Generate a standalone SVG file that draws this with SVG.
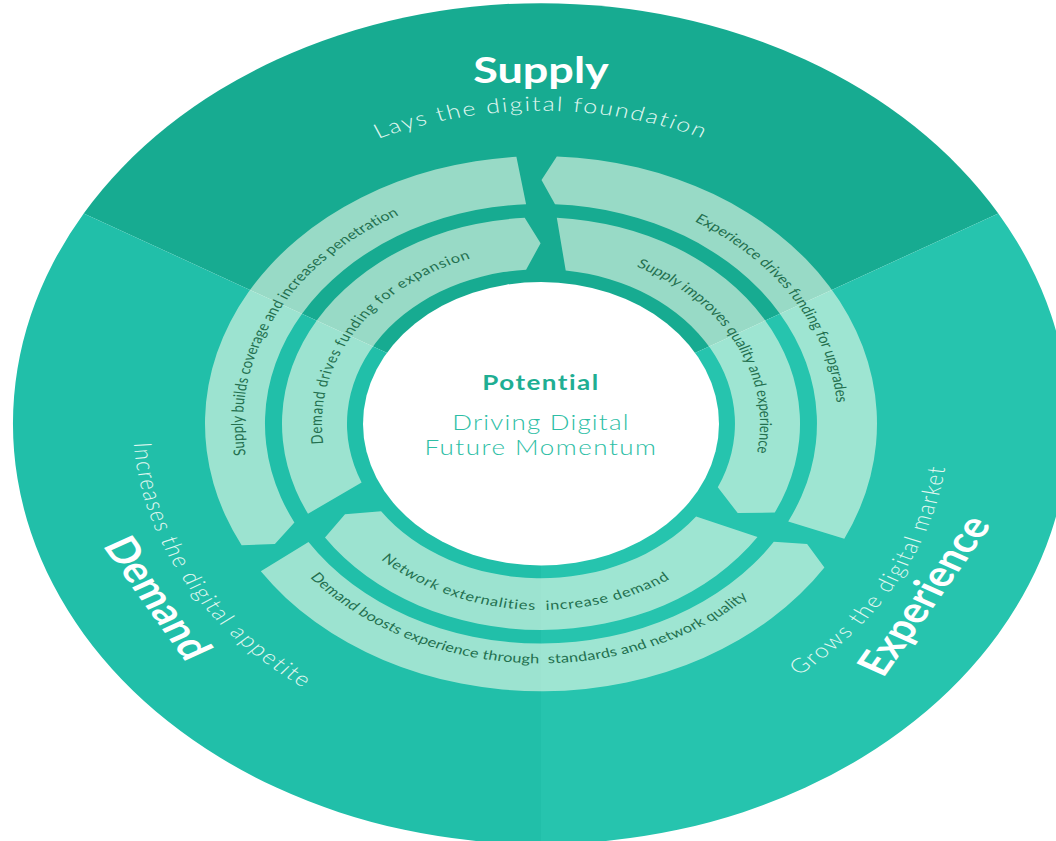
<svg xmlns="http://www.w3.org/2000/svg" width="1056" height="841" viewBox="0 0 1056 841">
<defs>
<style>
.band{fill:#fdffef;fill-opacity:0.56}
.lbl{font-family:Lato,'Open Sans','Liberation Sans',sans-serif;font-size:16.3px;fill:#23704f;letter-spacing:0.2px}
.sub{font-family:Lato,'Open Sans','Liberation Sans',sans-serif;font-weight:300;font-size:25px;fill:#e2f8f1;letter-spacing:1.9px}
.ttl{font-family:Lato,'Open Sans','Liberation Sans',sans-serif;font-weight:700;font-size:45px;fill:#ffffff}
.ctr{font-family:Lato,'Open Sans','Liberation Sans',sans-serif;text-anchor:middle}
</style>
<path id="pO1" d="M291.1,694.3 A298,298 0 0 1 525.4,234.4"/>
<path id="pO2" d="M530.6,235.2 A297,297 0 0 1 803.2,671.4"/>
<path id="pO3" d="M272.1,667.2 A301,301 0 0 0 792.6,697.2"/>
<path id="pI1" d="M346.9,633.5 A219,219 0 0 1 550.2,313.2"/>
<path id="pI2" d="M551.3,313.2 A219,219 0 0 1 725.3,650.3"/>
<path id="pI3" d="M329.3,631.6 A234,234 0 0 0 733.1,665.5"/>
<path id="pSup" d="M200.7,335.5 A393,393 0 0 1 881.3,335.5"/>
<path id="pDem" d="M191.3,321.9 A408,408 0 0 0 533.9,939.9"/>
<path id="pExp" d="M546.7,940 A408,408 0 0 0 891.5,323.1"/>
</defs>
<rect width="1056" height="841" fill="#ffffff"/>
<g transform="scale(1,0.796402)">
  <g id="supply">
    <path d="M541,532 L998.3,268 A528,528 0 0 0 83.7,268 Z" fill="#17ab91"/>
  </g>
  <g id="demand">
    <path d="M541,532 L83.7,268 A528,528 0 0 0 541,1060 Z" fill="#21bfa9"/>
  </g>
  <g id="experience">
    <path d="M541,532 L541,1060 A528,528 0 0 0 998.3,268 Z" fill="#26c4ae"/>
  </g>
  <g id="connectors">
    <g id="arrow-supply-builds">
      <path class="band" d="M516.4,196.9 A336,336 0 0 0 241.6,684.5 L274.9,683.1 L294.4,656.0 A276,276 0 0 1 526.1,256.4 Z"/>
      <text class="lbl"><textPath href="#pO1" startOffset="50%" text-anchor="middle">Supply builds coverage and increases penetration</textPath></text>
    </g>
    <g id="arrow-experience-drives">
      <path class="band" d="M541.5,226 L556.8,196.4 A336,336 0 0 1 844.3,676.6 L788.2,654.7 A276,276 0 0 0 555.0,256.4 Z"/>
      <text class="lbl" style="letter-spacing:0"><textPath href="#pO2" startOffset="50%" text-anchor="middle">Experience drives funding for upgrades</textPath></text>
    </g>
    <g id="arrow-demand-boosts">
      <path class="band" d="M260.8,717.4 A336,336 0 0 0 824.4,712.5 L807.1,683.1 L773.8,680.3 A276,276 0 0 1 308.5,680.7 Z"/>
      <text class="lbl" xml:space="preserve"><textPath href="#pO3" startOffset="50%" text-anchor="middle">Demand boosts experience through  standards and network quality</textPath></text>
    </g>
    <g id="arrow-demand-drives">
      <path class="band" d="M540.6,305.5 L524.7,273.5 A259,259 0 0 0 308.0,645.1 L361.6,605.9 A194,194 0 0 1 526.1,338.6 Z"/>
      <text class="lbl" style="letter-spacing:0.9px"><textPath href="#pI1" startOffset="50%" text-anchor="middle">Demand drives funding for expansion</textPath></text>
    </g>
    <g id="arrow-supply-improves">
      <path class="band" d="M556.8,273.5 A259,259 0 0 1 774.8,643.5 L737.7,644.2 L717.8,611.8 A194,194 0 0 0 565.7,339.6 Z"/>
      <text class="lbl" style="letter-spacing:0"><textPath href="#pI2" startOffset="50%" text-anchor="middle">Supply improves quality and experience</textPath></text>
    </g>
    <g id="arrow-network">
      <path class="band" d="M325.0,674.9 A259,259 0 0 0 757.5,674.2 L696.1,648.5 A194,194 0 0 1 381.1,641.9 L345.0,645.6 Z"/>
      <text class="lbl" style="letter-spacing:0.8px" xml:space="preserve"><textPath href="#pI3" startOffset="50%" text-anchor="middle">Network externalities  increase demand</textPath></text>
    </g>
  </g>
  <g id="potential">
    <circle cx="541" cy="532" r="178" fill="#ffffff"/>
    <text class="ctr" x="541" y="489.7" font-size="26" font-weight="700" fill="#1fae93" letter-spacing="1.5">Potential</text>
    <text class="ctr" x="541" y="539.9" font-size="26" font-weight="300" fill="#2dbea5" letter-spacing="1.2">Driving Digital</text>
    <text class="ctr" x="541" y="571.3" font-size="26" font-weight="300" fill="#2dbea5" letter-spacing="1.5">Future Momentum</text>
  </g>
  <g id="labels-supply">
    <text class="ttl" x="541" y="104.2" text-anchor="middle">Supply</text>
    <text class="sub"><textPath href="#pSup" startOffset="50%" text-anchor="middle">Lays the digital foundation</textPath></text>
  </g>
  <g id="labels-demand">
    <text class="sub"><textPath href="#pDem" startOffset="50%" text-anchor="middle">Increases the digital appetite</textPath></text>
    <text class="ttl" x="144.1" y="758.4" text-anchor="middle" transform="rotate(60.3 144.1 758.4)">Demand</text>
  </g>
  <g id="labels-experience">
    <text class="sub"><textPath href="#pExp" startOffset="50%" text-anchor="middle">Grows the digital market</textPath></text>
    <text class="ttl" x="937.4" y="755.4" text-anchor="middle" transform="rotate(-60.6 937.4 755.4)">Experience</text>
  </g>
</g>
</svg>
